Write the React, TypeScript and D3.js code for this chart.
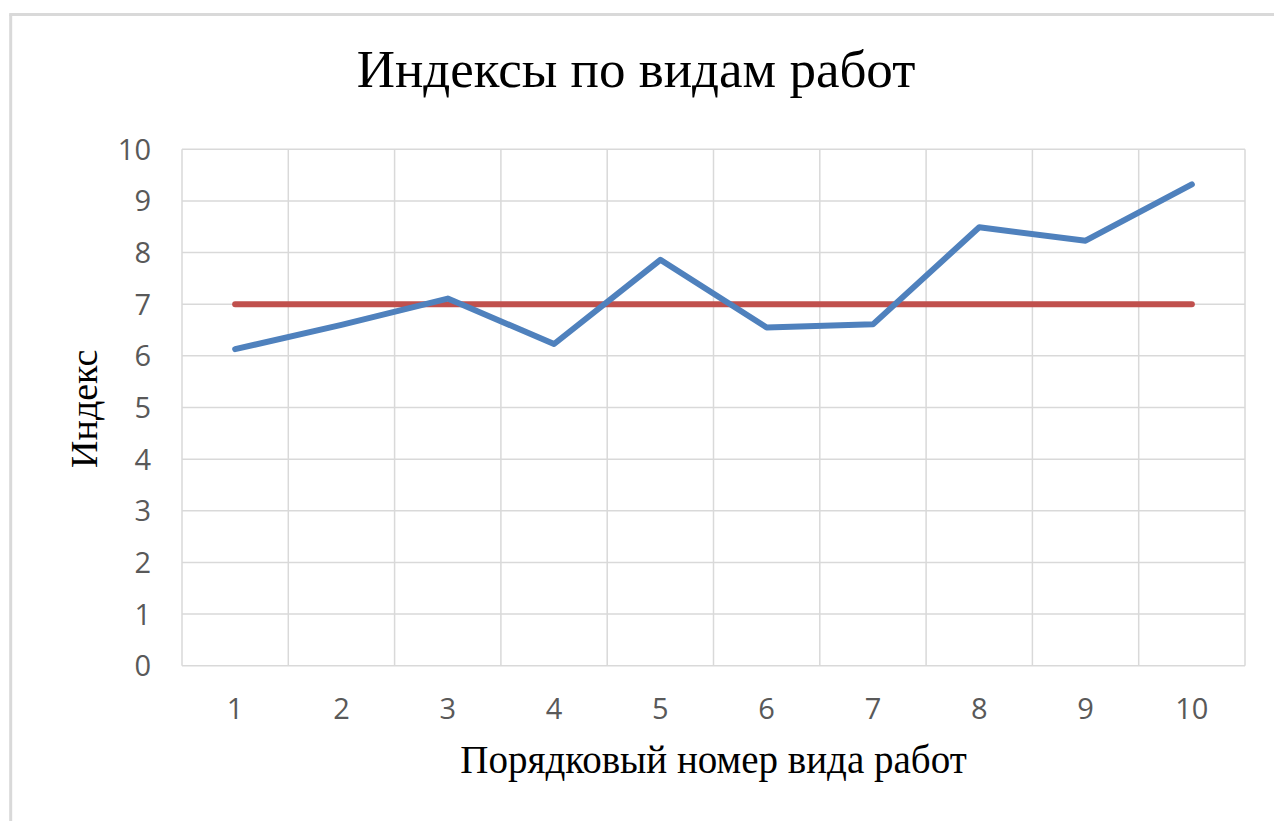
import React from "react";
import * as d3 from "d3";

const categories = ["1", "2", "3", "4", "5", "6", "7", "8", "9", "10"];
const indexValues = [6.13, 6.6, 7.11, 6.23, 7.86, 6.55, 6.61, 8.49, 8.23, 9.32];
const thresholdValues = [7, 7, 7, 7, 7, 7, 7, 7, 7, 7];
const yTicks = [0, 1, 2, 3, 4, 5, 6, 7, 8, 9, 10];

const W = 1274;
const H = 821;
const plot = { left: 182, right: 1245, top: 149.3, bottom: 665.7 };

export default function App() {
  React.useEffect(() => {
    document.body.style.margin = "0";
  }, []);

  const x = d3.scaleBand<string>().domain(categories).range([plot.left, plot.right]).padding(0);
  const y = d3.scaleLinear().domain([0, 10]).range([plot.bottom, plot.top]);
  const cx = (c: string) => (x(c) as number) + x.bandwidth() / 2;

  const line = d3
    .line<number>()
    .x((_, i) => cx(categories[i]))
    .y((d) => y(d));

  const gridColor = "#d9d9d9";
  const boundaries = categories.map((c) => x(c) as number).concat([plot.right]);
  const serif = "'Liberation Serif', 'Times New Roman', serif";
  const sans = "'Open Sans', sans-serif";

  return (
    <svg width={W} height={H} style={{ display: "block", background: "#fff" }}>
      <rect x={0} y={0} width={W} height={H} fill="#fff" />
      {/* outer frame */}
      <line x1={10.7} y1={14.5} x2={10.7} y2={H} stroke="#d9d9d9" strokeWidth={3} />
      <line x1={9.2} y1={14.5} x2={W} y2={14.5} stroke="#d9d9d9" strokeWidth={3} />

      {/* horizontal grid */}
      {yTicks.map((t) => (
        <line key={"h" + t} x1={plot.left} x2={plot.right} y1={y(t)} y2={y(t)} stroke={gridColor} strokeWidth={1.5} />
      ))}
      {/* vertical grid */}
      {boundaries.map((b, i) => (
        <line key={"v" + i} x1={b} x2={b} y1={plot.top} y2={plot.bottom} stroke={gridColor} strokeWidth={1.5} />
      ))}

      {/* y tick labels */}
      {yTicks.map((t) => (
        <text key={"yt" + t} x={151} y={y(t)} dy="0.36em" textAnchor="end" fontFamily={sans} fontSize={29} fill="#595959">
          {t}
        </text>
      ))}
      {/* x tick labels */}
      {categories.map((c) => (
        <text key={"xt" + c} x={cx(c)} y={719} textAnchor="middle" fontFamily={sans} fontSize={29} fill="#595959">
          {c}
        </text>
      ))}

      {/* series */}
      <path d={line(thresholdValues) || ""} fill="none" stroke="#c0504d" strokeWidth={6} strokeLinecap="round" strokeLinejoin="round" />
      <path d={line(indexValues) || ""} fill="none" stroke="#4f81bd" strokeWidth={6} strokeLinecap="round" strokeLinejoin="round" />

      {/* title */}
      <text x={636} y={87} textAnchor="middle" fontFamily={serif} fontSize={53} fill="#000">
        Индексы по видам работ
      </text>
      {/* x axis title */}
      <text x={713.5} y={773} textAnchor="middle" fontFamily={serif} fontSize={39} fill="#000">
        Порядковый номер вида работ
      </text>
      {/* y axis title */}
      <text
        transform={`translate(97, ${408.7}) rotate(-90)`}
        textAnchor="middle"
        fontFamily={serif}
        fontSize={38}
        fill="#000"
      >
        Индекс
      </text>
    </svg>
  );
}
